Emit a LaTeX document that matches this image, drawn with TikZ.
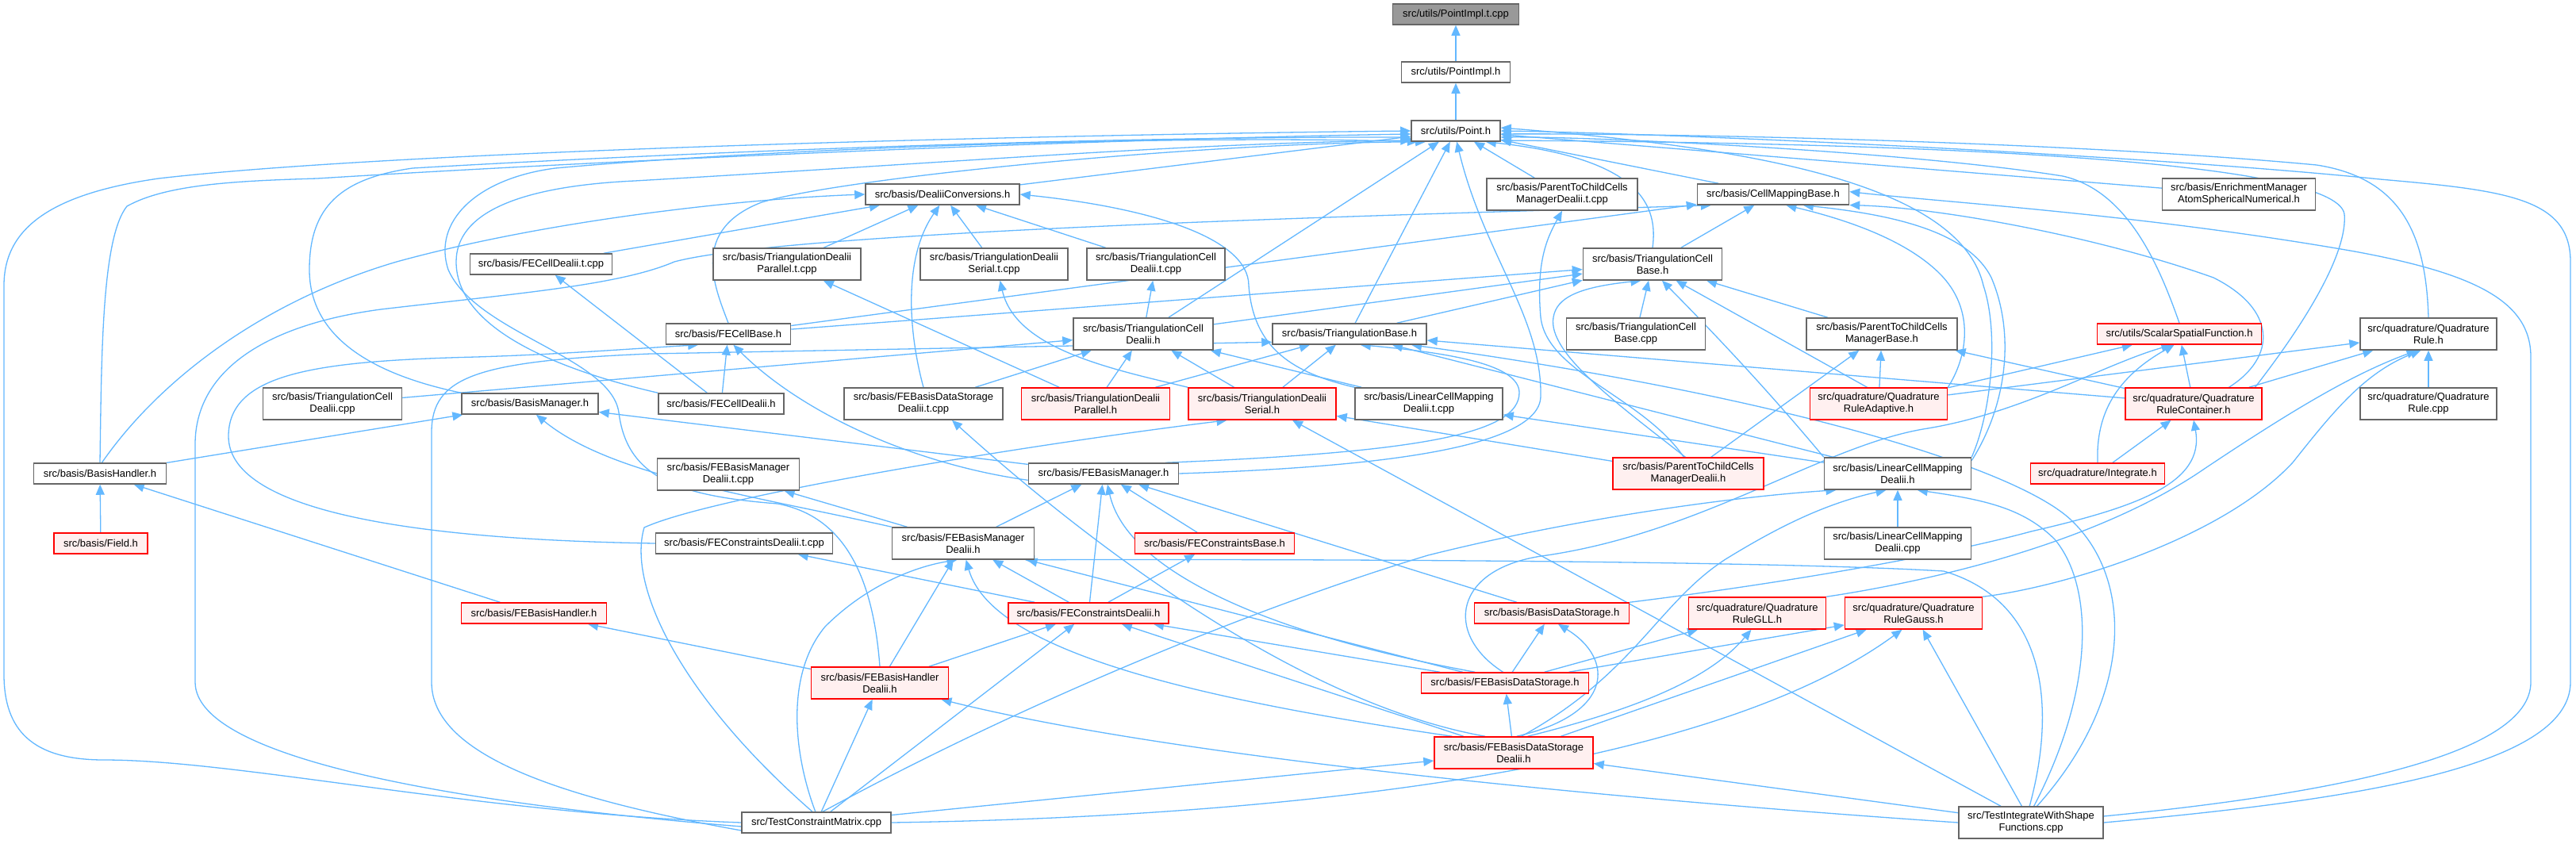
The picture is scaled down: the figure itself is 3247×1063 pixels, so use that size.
\documentclass[tikz,border=0pt]{standalone}
\usepackage{fontspec}
\setmainfont{Liberation Sans}
\usetikzlibrary{arrows.meta}
\pgfdeclarelayer{bg}
\pgfsetlayers{bg,main}
\definecolor{edgec}{HTML}{63B8FF}
\definecolor{boxc}{HTML}{666666}
\definecolor{redc}{HTML}{FF0000}
\definecolor{redf}{HTML}{FFF0F0}
\definecolor{grayf}{HTML}{999999}
\begin{document}
\begin{tikzpicture}[x=1pt,y=-1pt,
 every node/.style={font=\fontsize{13}{15}\selectfont},
 nb/.style={draw=boxc, fill=white, line width=1.5pt, inner sep=0pt, minimum height=26pt, align=center},
 nb2/.style={nb, minimum height=40pt},
 rb/.style={nb, draw=redc, fill=redf},
 rb2/.style={rb, minimum height=40pt},
 gb/.style={nb, fill=grayf},
 ed/.style={draw=edgec, line width=1.3pt, -{Triangle[length=13pt,width=11pt]}},
]
\useasboundingbox (0,0) rectangle (3247,1063);
% nodes
\node[gb, minimum width=159pt] (pit) at (1835,18) {src/utils/PointImpl.t.cpp};
\node[nb, minimum width=137pt] (pih) at (1835,91) {src/utils/PointImpl.h};
\node[nb, minimum width=112pt] (pt) at (1835,165) {src/utils/Point.h};
\node[nb, minimum width=194pt] (dc) at (1188,245) {src/basis/DealiiConversions.h};
\node[nb2, minimum width=190pt] (ptcmdt) at (1969,245) {src/basis/ParentToChildCells\\ManagerDealii.t.cpp};
\node[nb, minimum width=191pt] (cmb) at (2235,245) {src/basis/CellMappingBase.h};
\node[nb2, minimum width=193pt] (enr) at (2822,245) {src/basis/EnrichmentManager\\AtomSphericalNumerical.h};
\node[nb, minimum width=179pt] (fecdt) at (682,333) {src/basis/FECellDealii.t.cpp};
\node[nb2, minimum width=186pt] (tdpt) at (992,333) {src/basis/TriangulationDealii\\Parallel.t.cpp};
\node[nb2, minimum width=186pt] (tdst) at (1253,333) {src/basis/TriangulationDealii\\Serial.t.cpp};
\node[nb2, minimum width=174pt] (tcdt) at (1457,333) {src/basis/TriangulationCell\\Dealii.t.cpp};
\node[nb2, minimum width=175pt] (tcb) at (2083,333) {src/basis/TriangulationCell\\Base.h};
\node[nb, minimum width=157pt] (fecb) at (918,421) {src/basis/FECellBase.h};
\node[nb2, minimum width=176pt] (tcd) at (1441,421) {src/basis/TriangulationCell\\Dealii.h};
\node[nb, minimum width=194pt] (tb) at (1701,421) {src/basis/TriangulationBase.h};
\node[nb2, minimum width=175pt] (tcbcpp) at (2062,421) {src/basis/TriangulationCell\\Base.cpp};
\node[nb2, minimum width=190pt] (ptcmb) at (2372,421) {src/basis/ParentToChildCells\\ManagerBase.h};
\node[rb, minimum width=207pt] (ssf) at (2747,421) {src/utils/ScalarSpatialFunction.h};
\node[nb2, minimum width=172pt] (qr) at (3061,421) {src/quadrature/Quadrature\\Rule.h};
\node[nb2, minimum width=175pt] (tcdcpp) at (419,509) {src/basis/TriangulationCell\\Dealii.cpp};
\node[nb, minimum width=172pt] (bm) at (668,509) {src/basis/BasisManager.h};
\node[nb, minimum width=158pt] (fecd) at (909,509) {src/basis/FECellDealii.h};
\node[nb2, minimum width=200pt] (febdsdt) at (1164,509) {src/basis/FEBasisDataStorage\\Dealii.t.cpp};
\node[rb2, minimum width=187pt] (tdp) at (1381,509) {src/basis/TriangulationDealii\\Parallel.h};
\node[rb2, minimum width=186pt] (tds) at (1591,509) {src/basis/TriangulationDealii\\Serial.h};
\node[nb2, minimum width=186pt] (lcmdt) at (1801,509) {src/basis/LinearCellMapping\\Dealii.t.cpp};
\node[rb2, minimum width=173pt] (qra) at (2368,509) {src/quadrature/Quadrature\\RuleAdaptive.h};
\node[rb2, minimum width=172pt] (qrc) at (2765,509) {src/quadrature/Quadrature\\RuleContainer.h};
\node[nb2, minimum width=172pt] (qrcpp) at (3061,509) {src/quadrature/Quadrature\\Rule.cpp};
\node[nb, minimum width=167pt] (bh) at (126,597) {src/basis/BasisHandler.h};
\node[nb2, minimum width=179pt] (febmdt) at (918,598) {src/basis/FEBasisManager\\Dealii.t.cpp};
\node[nb, minimum width=189pt] (febm) at (1391,597) {src/basis/FEBasisManager.h};
\node[rb2, minimum width=190pt] (ptcmd) at (2128,597) {src/basis/ParentToChildCells\\ManagerDealii.h};
\node[nb2, minimum width=185pt] (lcmd) at (2392,597) {src/basis/LinearCellMapping\\Dealii.h};
\node[rb, minimum width=169pt] (integ) at (2644,597) {src/quadrature/Integrate.h};
\node[rb, minimum width=118pt] (field) at (127,685) {src/basis/Field.h};
\node[nb, minimum width=223pt] (fecdtcpp) at (938,685) {src/basis/FEConstraintsDealii.t.cpp};
\node[nb2, minimum width=179pt] (febmd) at (1214,685) {src/basis/FEBasisManager\\Dealii.h};
\node[rb, minimum width=201pt] (fecbase) at (1531,685) {src/basis/FEConstraintsBase.h};
\node[nb2, minimum width=185pt] (lcmdcpp) at (2392,685) {src/basis/LinearCellMapping\\Dealii.cpp};
\node[rb, minimum width=183pt] (febh) at (673,773) {src/basis/FEBasisHandler.h};
\node[rb, minimum width=202pt] (fecdh) at (1372,773) {src/basis/FEConstraintsDealii.h};
\node[rb, minimum width=195pt] (bds) at (1956,773) {src/basis/BasisDataStorage.h};
\node[rb2, minimum width=173pt] (qgll) at (2215,773) {src/quadrature/Quadrature\\RuleGLL.h};
\node[rb2, minimum width=173pt] (qgauss) at (2412,773) {src/quadrature/Quadrature\\RuleGauss.h};
\node[rb2, minimum width=173pt] (febhd) at (1109,861) {src/basis/FEBasisHandler\\Dealii.h};
\node[rb, minimum width=211pt] (febds) at (1897,861) {src/basis/FEBasisDataStorage.h};
\node[rb2, minimum width=200pt] (febdsd) at (1908,949) {src/basis/FEBasisDataStorage\\Dealii.h};
\node[nb, minimum width=188pt] (tcm) at (1029,1037) {src/TestConstraintMatrix.cpp};
\node[nb2, minimum width=182pt] (tiws) at (2560,1037) {src/TestIntegrateWithShape\\Functions.cpp};

\begin{pgfonlayer}{bg}
\fill[white] (0,0) rectangle (3247,1063);
% top chain
\draw[ed] (pih) -- (pit);
\draw[ed] (pt) -- (pih);
% into Point.h
\draw[ed] (dc) -- (pt);
\draw[ed] (ptcmdt) -- (pt);
\draw[ed] (cmb) -- (pt);
\draw[ed] (enr) -- (pt);
\draw[ed] (tcd) -- (pt);
\draw[ed] (tb) -- (pt);
\draw[ed] (tcb.north) .. controls (2090,260) and (2070,200) .. (pt.340);
\draw[ed] (fecb.north) .. controls (900,360) and (870,290) .. (960,255) .. controls (1060,225) and (1500,180) .. (pt.200);
\draw[ed] (bh.north) .. controls (128,450) and (128,300) .. (160,260) .. controls (210,232) and (300,228) .. (400,225) .. controls (800,200) and (1400,175) .. (pt.184);
\draw[ed] (bm.north west) .. controls (460,470) and (390,420) .. (390,340) .. controls (390,260) and (430,225) .. (520,212) .. controls (900,190) and (1400,172) .. (pt.188);
\draw[ed] (fecd.north west) .. controls (720,470) and (575,420) .. (575,330) .. controls (575,270) and (650,235) .. (800,228) .. controls (1200,205) and (1500,180) .. (pt.192);
\draw[ed] (febhd.north) .. controls (1100,720) and (1060,650) .. (980,635) .. controls (850,625) and (790,600) .. (780,520) .. controls (770,450) and (600,420) .. (565,340) .. controls (545,280) and (600,225) .. (700,212) .. controls (1000,185) and (1500,170) .. (pt.196);
\draw[ed] (febm.east) .. controls (1700,590) and (1940,570) .. (1942,500) .. controls (1944,400) and (1870,320) .. (pt.275);
\draw[ed] (ssf.north) .. controls (2720,330) and (2680,240) .. (2600,222) .. controls (2400,190) and (2000,172) .. (pt.352);
\draw[ed] (qr.north) .. controls (3058,300) and (3030,225) .. (2920,208) .. controls (2600,178) and (2100,168) .. (pt.356);
\draw[ed] (qrc.15) .. controls (2880,440) and (2960,330) .. (2955,270) .. controls (2945,200) and (2400,180) .. (pt.348);
\draw[ed] (lcmd.north east) .. controls (2510,520) and (2520,420) .. (2500,360) .. controls (2470,230) and (2200,185) .. (pt.4);
\draw[ed] (tcm.180) .. controls (600,1025) and (300,958) .. (131,958) .. controls (40,958) and (5,920) .. (5,850) -- (5,360) .. controls (5,290) and (60,245) .. (200,225) .. controls (500,190) and (1300,170) .. (pt.180);
\draw[ed] (tiws.east) .. controls (2950,1010) and (3240,970) .. (3240,860) -- (3240,330) .. controls (3240,250) and (3160,240) .. (3000,226) .. controls (2700,195) and (2100,168) .. (pt.0);
% into DealiiConversions.h
\draw[ed] (fecdt) -- (dc);
\draw[ed] (tdpt) -- (dc);
\draw[ed] (tdst) -- (dc);
\draw[ed] (tcdt) -- (dc);
\draw[ed] (bh.80) .. controls (200,480) and (330,380) .. (500,330) .. controls (700,275) and (950,250) .. (dc.west);
\draw[ed] (febdsdt.north) .. controls (1148,430) and (1135,330) .. (dc.255);
\draw[ed] (lcmdt.north west) .. controls (1630,470) and (1580,440) .. (1574,360) .. controls (1574,300) and (1450,262) .. (dc.east);
% into ParentToChildCellsManagerDealii.t.cpp
\draw[ed] (ptcmd.105) .. controls (2070,500) and (1950,470) .. (1942,400) .. controls (1936,330) and (1950,300) .. (ptcmdt.south);
% into CellMappingBase.h
\draw[ed] (fecb) -- (cmb);
\draw[ed] (tcb) -- (cmb);
\draw[ed] (lcmd.10) .. controls (2530,510) and (2540,420) .. (2510,350) .. controls (2480,290) and (2380,270) .. (cmb.340);
\draw[ed] (qra.north east) .. controls (2480,450) and (2490,390) .. (2445,345) .. controls (2400,300) and (2320,275) .. (cmb.320);
\draw[ed] (qrc.25) .. controls (2870,450) and (2870,390) .. (2790,350) .. controls (2650,300) and (2450,262) .. (cmb.352);
\draw[ed] (tcm.183) .. controls (600,1015) and (246,960) .. (246,860) -- (246,560) .. controls (246,470) and (330,410) .. (480,390) .. controls (650,370) and (780,360) .. (850,330) .. controls (1000,290) and (1800,270) .. (cmb.190);
\draw[ed] (tiws.5) .. controls (2950,1000) and (3190,950) .. (3190,860) -- (3190,450) .. controls (3190,380) and (3120,345) .. (2968,317) .. controls (2700,270) and (2450,255) .. (cmb.2);
% into TriangulationCellBase.h
\draw[ed] (fecb) -- (tcb);
\draw[ed] (tcd) -- (tcb);
\draw[ed] (tb) -- (tcb);
\draw[ed] (tcbcpp) -- (tcb);
\draw[ed] (ptcmb) -- (tcb);
\draw[ed] (qra.125) -- (tcb.325);
\draw[ed] (ptcmd.100) .. controls (2040,510) and (1950,445) .. (1958,400) .. controls (1962,375) and (1990,362) .. (tcb.235);
\draw[ed] (lcmd.north west) .. controls (2260,530) and (2200,460) .. (tcb.300);
% into TriangulationBase.h
\draw[ed] (tdp) -- (tb);
\draw[ed] (tds) -- (tb);
\draw[ed] (lcmd) -- (tb);
\draw[ed] (qrc) -- (tb);
\draw[ed] (febm.10) .. controls (1800,570) and (1915,545) .. (1915,495) .. controls (1915,460) and (1830,445) .. (tb.315);
\draw[ed] (tcm.186) .. controls (700,1005) and (544,950) .. (544,860) -- (544,545) .. controls (544,475) and (600,455) .. (820,446) -- (tb.186);
\draw[ed] (tiws.70) .. controls (2690,880) and (2690,730) .. (2610,655) .. controls (2540,590) and (2250,500) .. (tb.350);
% into TriangulationCellDealii.h
\draw[ed] (tcdcpp) -- (tcd);
\draw[ed] (febdsdt) -- (tcd);
\draw[ed] (tdp) -- (tcd);
\draw[ed] (tds) -- (tcd);
\draw[ed] (lcmdt) -- (tcd);
% into FECellBase.h
\draw[ed] (fecd) -- (fecb);
\draw[ed] (febm.185) .. controls (1150,585) and (1010,520) .. (fecb.295);
\draw[ed] (fecdtcpp.west) .. controls (500,680) and (288,640) .. (288,550) .. controls (288,470) and (400,455) .. (600,450) .. controls (700,447) and (790,440) .. (fecb.200);
% .t.cpp implementations
\draw[ed] (fecd) -- (fecdt);
\draw[ed] (tdp) -- (tdpt);
\draw[ed] (tds.north west) .. controls (1400,465) and (1280,440) .. (tdst.290);
\draw[ed] (tcd) -- (tcdt);
\draw[ed] (febdsd.150) .. controls (1600,880) and (1300,620) .. (febdsdt.330);
\draw[ed] (febmd) -- (febmdt);
\draw[ed] (fecdh) -- (fecdtcpp);
\draw[ed] (lcmd) -- (lcmdt);
% into FEBasisManager.h
\draw[ed] (febmd) -- (febm);
\draw[ed] (fecdh) -- (febm);
\draw[ed] (fecbase) -- (febm);
\draw[ed] (bds) -- (febm);
\draw[ed] (febds.160) .. controls (1600,800) and (1420,720) .. (febm.290);
% into BasisManager.h / BasisHandler.h
\draw[ed] (bh) -- (bm);
\draw[ed] (febm) -- (bm);
\draw[ed] (febmd.north west) .. controls (950,625) and (770,600) .. (bm.300);
\draw[ed] (field) -- (bh);
\draw[ed] (febh) -- (bh);
\draw[ed] (febhd) -- (febh);
% into FEBasisManagerDealii.h
\draw[ed] (febhd) -- (febmd);
\draw[ed] (fecdh) -- (febmd);
\draw[ed] (febds) -- (febmd);
\draw[ed] (febdsd.165) .. controls (1500,880) and (1250,820) .. (febmd.280);
\draw[ed] (tcm.95) .. controls (1000,950) and (990,850) .. (1040,790) .. controls (1090,740) and (1150,715) .. (febmd.250);
\draw[ed] (tiws.95) .. controls (2590,900) and (2585,760) .. (2450,720) .. controls (2200,705) and (1500,705) .. (febmd.345);
% FEConstraints
\draw[ed] (fecdh) -- (fecbase);
\draw[ed] (febhd) -- (fecdh);
\draw[ed] (febdsd) -- (fecdh);
\draw[ed] (febds) -- (fecdh);
\draw[ed] (tcm) -- (fecdh);
% ParentToChildCellsManagerBase.h
\draw[ed] (ptcmd) -- (ptcmb);
\draw[ed] (qra) -- (ptcmb);
\draw[ed] (qrc) -- (ptcmb);
\draw[ed] (ptcmd) -- (tds);
% LinearCellMappingDealii.h
\draw[ed] (lcmdcpp) -- (lcmd);
\draw[ed] (febdsd.65) .. controls (2060,850) and (2090,760) .. (2175,705) .. controls (2240,665) and (2300,635) .. (lcmd.235);
\draw[ed] (tiws.80) .. controls (2640,870) and (2640,740) .. (2590,680) .. controls (2550,640) and (2500,630) .. (lcmd.320);
\draw[ed] (tcm.60) .. controls (1300,880) and (1600,760) .. (1800,700) .. controls (2000,650) and (2200,625) .. (lcmd.195);
% ScalarSpatialFunction.h
\draw[ed] (qra) -- (ssf);
\draw[ed] (qrc) -- (ssf);
\draw[ed] (integ.north) .. controls (2642,530) and (2660,480) .. (ssf.245);
\draw[ed] (febds.100) .. controls (1820,800) and (1830,715) .. (1950,700) .. controls (2150,670) and (2300,560) .. (2430,540) .. controls (2550,520) and (2650,460) .. (ssf.235);
% QuadratureRule.h
\draw[ed] (qra) -- (qr);
\draw[ed] (qrc) -- (qr);
\draw[ed] (qrcpp) -- (qr);
\draw[ed] (qgll.north east) .. controls (2450,730) and (2650,680) .. (2780,590) .. controls (2900,510) and (2970,470) .. (qr.235);
\draw[ed] (qgauss.north east) .. controls (2600,740) and (2800,680) .. (2890,583) .. controls (2940,520) and (2980,470) .. (qr.245);
% QuadratureRuleContainer.h
\draw[ed] (integ) -- (qrc);
\draw[ed] (bds.north east) .. controls (2250,735) and (2450,700) .. (2560,670) .. controls (2690,640) and (2780,610) .. (qrc.south);
% storage
\draw[ed] (febds) -- (bds);
\draw[ed] (febdsd.80) .. controls (2035,900) and (2035,830) .. (bds.300);
\draw[ed] (febds) -- (qgll);
\draw[ed] (febdsd.50) .. controls (2080,890) and (2160,850) .. (qgll.250);
\draw[ed] (febds) -- (qgauss);
\draw[ed] (febdsd) -- (qgauss);
\draw[ed] (febdsd) -- (febds);
% TestConstraintMatrix.cpp
\draw[ed] (tcm.110) .. controls (860,880) and (790,740) .. (812,665) .. controls (900,625) and (1300,560) .. (tds.205);
\draw[ed] (tcm) -- (febhd);
\draw[ed] (tcm) -- (febdsd);
\draw[ed] (tcm.east) .. controls (1600,1030) and (2150,975) .. (qgauss.235);
% TestIntegrateWithShapeFunctions.cpp
\draw[ed] (tiws) -- (tds);
\draw[ed] (tiws) -- (febdsd);
\draw[ed] (tiws) -- (qgauss);
\draw[ed] (tiws.west) .. controls (2100,1012) and (1500,960) .. (febhd.345);
\end{pgfonlayer}
\end{tikzpicture}
\end{document}
